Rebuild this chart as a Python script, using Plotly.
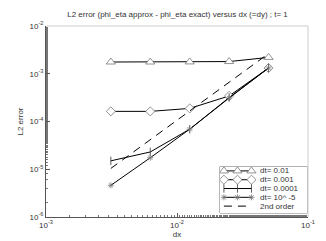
import plotly.graph_objects as go

dx = [1/320, 1/160, 1/80, 1/40, 1/20]
err_dt_1e2 = [1.76e-3, 1.76e-3, 1.77e-3, 1.80e-3, 2.2e-3]
err_dt_1e3 = [1.63e-4, 1.63e-4, 1.88e-4, 3.43e-4, 1.32e-3]
err_dt_1e4 = [1.5e-5, 2.3e-5, 6.9e-5, 3.17e-4, 1.32e-3]
err_dt_1e5 = [4.6e-6, 1.74e-5, 6.9e-5, 3.1e-4, 1.32e-3]
order2_dx = [1/320, 1/20]
order2_err = [1.04e-5, 2.65e-3]
series_names = ["dt= 0.01", "dt= 0.001", "dt= 0.0001", "dt= 10^ -5", "2nd order"]

xtick_vals = [1e-3, 1e-2, 1e-1]
xtick_text = ["10<sup>-3</sup>", "10<sup>-2</sup>", "10<sup>-1</sup>"]
ytick_vals = [1e-6, 1e-5, 1e-4, 1e-3, 1e-2]
ytick_text = ["10<sup>-6</sup>", "10<sup>-5</sup>", "10<sup>-4</sup>", "10<sup>-3</sup>", "10<sup>-2</sup>"]

FONT = "Liberation Sans, Arial, sans-serif"
LINE = dict(color="black", width=1)
styles = [
    dict(mode="lines+markers", line=LINE,
         marker=dict(symbol="triangle-up", size=8, color="white", line=dict(width=0.8, color="#777777"))),
    dict(mode="lines+markers", line=LINE,
         marker=dict(symbol="diamond", size=7, color="white", line=dict(width=0.8, color="#777777"))),
    dict(mode="lines+markers", line=LINE,
         marker=dict(symbol="line-ns", size=6, color="black", line=dict(width=0.8, color="#333333"))),
    dict(mode="lines+markers", line=LINE,
         marker=dict(symbol="asterisk", size=5, color="#777777", line=dict(width=0.8, color="#777777"))),
    dict(mode="lines", line=dict(color="black", width=1, dash="8px,6px")),
]

fig = go.Figure()
for xs, ys, nm, st in zip([dx, dx, dx, dx, order2_dx],
                          [err_dt_1e2, err_dt_1e3, err_dt_1e4, err_dt_1e5, order2_err],
                          series_names, styles):
    fig.add_trace(go.Scatter(x=xs, y=ys, name=nm, showlegend=False, **st))

# hand-drawn legend box on an auxiliary axis pair
annotations = []
for i, (nm, st) in enumerate(zip(series_names, styles)):
    row = 4.78 - i
    s = dict(st)
    if s["mode"] == "lines":
        xs = [0.045, 0.36]
    else:
        xs = [0.045, 0.2, 0.36]
    fig.add_trace(go.Scatter(x=xs, y=[row] * len(xs), xaxis="x2", yaxis="y2",
                             showlegend=False, hoverinfo="skip", **s))
    annotations.append(dict(x=0.44, y=row, xref="x2", yref="y2", text=nm, showarrow=False,
                            xanchor="left", yanchor="middle",
                            font=dict(size=8, color="#333333", family=FONT)))

fig.update_layout(
    width=326, height=241,
    margin=dict(l=35, r=26, t=18, b=29),
    paper_bgcolor="white", plot_bgcolor="white",
    font=dict(family=FONT, size=8, color="#333333"),
    title=dict(text="L2 error (phi_eta approx - phi_eta exact) versus dx (=dy) ; t= 1",
               x=0.52, xanchor="center", y=0.975, yanchor="middle",
               font=dict(size=8, color="#333333")),
    showlegend=False,
    annotations=annotations,
    shapes=[
        dict(type="line", xref="paper", yref="paper", x0=0, x1=1, y0=1, y1=1,
             line=dict(color="#cccccc", width=1)),
        dict(type="line", xref="paper", yref="paper", x0=1, x1=1, y0=0, y1=1,
             line=dict(color="#cccccc", width=1)),
        dict(type="rect", xref="paper", yref="paper", x0=0.664, x1=0.998, y0=0.021, y1=0.263,
             line=dict(color="#555555", width=0.8), fillcolor="white", layer="below"),
    ],
    xaxis2=dict(domain=[0.664, 0.998], anchor="y2", range=[0, 1], visible=False, fixedrange=True),
    yaxis2=dict(domain=[0.021, 0.263], anchor="x2", range=[0, 5.25], visible=False, fixedrange=True),
    xaxis=dict(type="log", range=[-3, -1], tickvals=xtick_vals, ticktext=xtick_text,
               ticks="inside", ticklen=4, tickcolor="#555555",
               showline=True, linecolor="#555555", linewidth=1,
               showgrid=False, zeroline=False,
               minor=dict(ticks="inside", ticklen=2, tickcolor="#777777", showgrid=False),
               title=dict(text="dx", standoff=2, font=dict(size=8)),
               tickfont=dict(size=8)),
    yaxis=dict(type="log", range=[-6, -2], tickvals=ytick_vals, ticktext=ytick_text,
               ticks="inside", ticklen=4, tickcolor="#555555",
               showline=True, linecolor="#555555", linewidth=1,
               showgrid=False, zeroline=False,
               minor=dict(ticks="inside", ticklen=2, tickcolor="#777777", showgrid=False),
               title=dict(text="L2 error", standoff=4, font=dict(size=8)),
               tickfont=dict(size=8)),
)

fig.write_html("out.html")
